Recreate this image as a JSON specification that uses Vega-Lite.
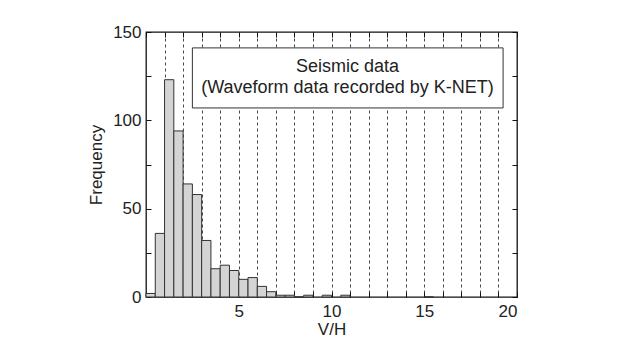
{
  "$schema": "https://vega.github.io/schema/vega-lite/v6.json",
  "width": 371,
  "height": 265,
  "autosize": "none",
  "padding": {"left": 146, "top": 32, "right": 103, "bottom": 50},
  "background": "white",
  "config": {
    "font": "Liberation Sans",
    "view": {"stroke": "#111", "strokeWidth": 1.3},
    "axis": {
      "domain": false,
      "tickColor": "#111",
      "tickSize": -5,
      "tickWidth": 1,
      "labelFont": "Liberation Sans",
      "labelFontSize": 17,
      "labelColor": "#222",
      "titleFont": "Liberation Sans",
      "titleFontSize": 17,
      "titleFontWeight": "normal",
      "titleColor": "#222",
      "grid": false
    }
  },
  "layer": [
    {
      "data": {
        "values": [
          {"bin_start": 0, "bin_end": 0.5, "count": 2},
          {"bin_start": 0.5, "bin_end": 1, "count": 36},
          {"bin_start": 1, "bin_end": 1.5, "count": 123},
          {"bin_start": 1.5, "bin_end": 2, "count": 94},
          {"bin_start": 2, "bin_end": 2.5, "count": 64},
          {"bin_start": 2.5, "bin_end": 3, "count": 58},
          {"bin_start": 3, "bin_end": 3.5, "count": 32},
          {"bin_start": 3.5, "bin_end": 4, "count": 16},
          {"bin_start": 4, "bin_end": 4.5, "count": 18},
          {"bin_start": 4.5, "bin_end": 5, "count": 15},
          {"bin_start": 5, "bin_end": 5.5, "count": 10},
          {"bin_start": 5.5, "bin_end": 6, "count": 11},
          {"bin_start": 6, "bin_end": 6.5, "count": 6},
          {"bin_start": 6.5, "bin_end": 7, "count": 3},
          {"bin_start": 7, "bin_end": 7.5, "count": 1},
          {"bin_start": 7.5, "bin_end": 8, "count": 1},
          {"bin_start": 8, "bin_end": 8.5, "count": 0},
          {"bin_start": 8.5, "bin_end": 9, "count": 1},
          {"bin_start": 9.5, "bin_end": 10, "count": 1},
          {"bin_start": 10.5, "bin_end": 11, "count": 1},
          {"bin_start": 15, "bin_end": 15.5, "count": 0}
        ]
      },
      "mark": {"type": "rect", "fill": "#d4d4d4", "stroke": "#333", "strokeWidth": 1},
      "encoding": {
        "x": {
          "field": "bin_start",
          "type": "quantitative",
          "scale": {"domain": [0, 20], "nice": false, "zero": false},
          "axis": {
            "orient": "bottom",
            "values": [0,1,2,3,4,5,6,7,8,9,10,11,12,13,14,15,16,17,18,19,20],
            "labelExpr": "datum.value % 5 == 0 && datum.value > 0 ? datum.label : ''",
            "labelPadding": 11,
            "title": "V/H",
            "titlePadding": 2,
            "grid": true,
            "gridDash": [3, 3],
            "gridColor": "#333",
            "gridWidth": 0.9
          }
        },
        "x2": {"field": "bin_end"},
        "y": {
          "field": "count",
          "type": "quantitative",
          "scale": {"domain": [0, 150], "nice": false},
          "axis": {
            "orient": "left",
            "values": [0, 25, 50, 75, 100, 125, 150],
            "labelExpr": "datum.value % 50 == 0 ? datum.label : ''",
            "labelPadding": 10,
            "title": "Frequency",
            "titlePadding": 7
          }
        }
      }
    },
    {
      "data": {"values": [{"line1": "Seismic data"}]},
      "mark": {"type": "rect", "fill": "white", "stroke": "#333", "strokeWidth": 1},
      "encoding": {
        "x": {
          "datum": 2.5,
          "type": "quantitative",
          "axis": {
            "orient": "top",
            "values": [0,1,2,3,4,5,6,7,8,9,10,11,12,13,14,15,16,17,18,19,20],
            "labels": false,
            "title": null
          }
        },
        "x2": {"datum": 19.25},
        "y": {
          "datum": 141,
          "type": "quantitative",
          "axis": {
            "orient": "right",
            "values": [0, 25, 50, 75, 100, 125, 150],
            "labels": false,
            "title": null
          }
        },
        "y2": {"datum": 107}
      }
    },
    {
      "data": {"values": [{"text": ["Seismic data", "(Waveform data recorded by K-NET)"]}]},
      "mark": {"type": "text", "font": "Liberation Sans", "fontSize": 18, "color": "#222", "align": "center", "baseline": "middle", "lineHeight": 21},
      "encoding": {
        "x": {"datum": 10.86, "type": "quantitative", "axis": null},
        "y": {"datum": 130, "type": "quantitative", "axis": null},
        "text": {"field": "text"}
      }
    }
  ],
  "resolve": {"axis": {"x": "independent", "y": "independent"}}
}
